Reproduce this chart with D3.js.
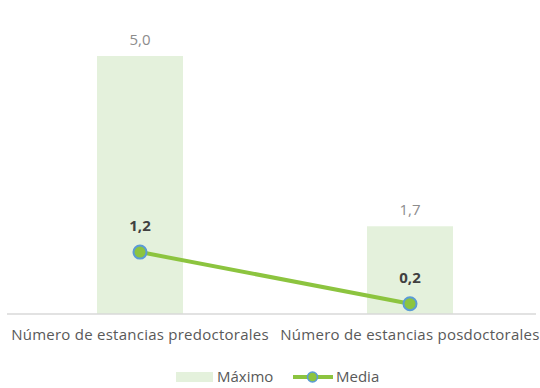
<!DOCTYPE html>
<html>
<head>
<meta charset="utf-8">
<script src="https://cdn.jsdelivr.net/npm/d3@7/dist/d3.min.js"></script>
<style>
  html, body { margin: 0; padding: 0; background: #fff; }
  svg { display: block; font-family: "Open Sans", sans-serif; }
</style>
</head>
<body>
<svg id="chart" width="540" height="388"></svg>
<script>
const categories = ["Número de estancias predoctorales", "Número de estancias posdoctorales"];
const maximo = [5.0, 1.7];
const media = [1.2, 0.2];
const seriesNames = ["Máximo", "Media"];

const fmt = v => d3.format(".1f")(v).replace(".", ",");

const svg = d3.select("#chart");
const baseY = 314;
const font = "'Open Sans', sans-serif";

const x = d3.scaleBand().domain(categories).range([5, 545]).paddingInner(0).paddingOuter(0);
const y = d3.scaleLinear().domain([0, 5]).range([baseY, 56]);
const barW = 86;

const barFill = "#e4f1dc";
const lineColor = "#8cc43f";
const markerStroke = "#5b9bd5";

// Bars (Máximo)
svg.append("g").selectAll("rect").data(categories).join("rect")
  .attr("x", d => x(d) + x.bandwidth() / 2 - barW / 2)
  .attr("y", (d, i) => y(maximo[i]))
  .attr("width", barW)
  .attr("height", (d, i) => baseY - y(maximo[i]))
  .attr("fill", barFill);

// Baseline
svg.append("line")
  .attr("x1", 7).attr("x2", 536)
  .attr("y1", baseY).attr("y2", baseY)
  .attr("stroke", "#d9d9d9").attr("stroke-width", 1.5);

// Category labels
const xAxis = d3.axisBottom(x).tickSize(0).tickPadding(0);
const ax = svg.append("g").attr("transform", `translate(0,${baseY})`).call(xAxis);
ax.select(".domain").remove();
ax.selectAll("text")
  .attr("dy", null)
  .attr("y", 26)
  .attr("font-size", 15)
  .attr("letter-spacing", 0.25)
  .attr("font-family", font)
  .attr("fill", "#595959");

// Bar value labels
svg.append("g").selectAll("text").data(categories).join("text")
  .attr("x", d => x(d) + x.bandwidth() / 2)
  .attr("y", (d, i) => y(maximo[i]) - 11)
  .attr("text-anchor", "middle")
  .attr("font-size", 15)
  .attr("fill", "#8c8c8c")
  .text((d, i) => fmt(maximo[i]));

// Line (Media)
const line = d3.line()
  .x(d => x(d.c) + x.bandwidth() / 2)
  .y(d => y(d.v));
const pts = categories.map((c, i) => ({ c, v: media[i] }));
svg.append("path").datum(pts)
  .attr("d", line)
  .attr("fill", "none")
  .attr("stroke", lineColor)
  .attr("stroke-width", 4)
  .attr("stroke-linecap", "round");

svg.append("g").selectAll("circle").data(pts).join("circle")
  .attr("cx", d => x(d.c) + x.bandwidth() / 2)
  .attr("cy", d => y(d.v))
  .attr("r", 6.5)
  .attr("fill", lineColor)
  .attr("stroke", markerStroke)
  .attr("stroke-width", 2);

svg.append("g").selectAll("text").data(pts).join("text")
  .attr("x", d => x(d.c) + x.bandwidth() / 2)
  .attr("y", d => y(d.v) - 21)
  .attr("text-anchor", "middle")
  .attr("font-size", 15)
  .attr("font-weight", "bold")
  .attr("fill", "#404040")
  .text(d => fmt(d.v));

// Legend
const lg = svg.append("g").attr("transform", "translate(0,377)");
lg.append("rect").attr("x", 176).attr("y", -5).attr("width", 37).attr("height", 10).attr("fill", barFill);
lg.append("text").attr("x", 217).attr("y", 5).attr("font-size", 15).attr("fill", "#595959").text(seriesNames[0]);
lg.append("line").attr("x1", 293).attr("x2", 333).attr("y1", 0).attr("y2", 0)
  .attr("stroke", lineColor).attr("stroke-width", 4);
lg.append("circle").attr("cx", 312.5).attr("cy", 0).attr("r", 5)
  .attr("fill", lineColor).attr("stroke", markerStroke).attr("stroke-width", 1.5);
lg.append("text").attr("x", 336).attr("y", 5).attr("font-size", 15).attr("fill", "#595959").text(seriesNames[1]);
</script>
</body>
</html>
